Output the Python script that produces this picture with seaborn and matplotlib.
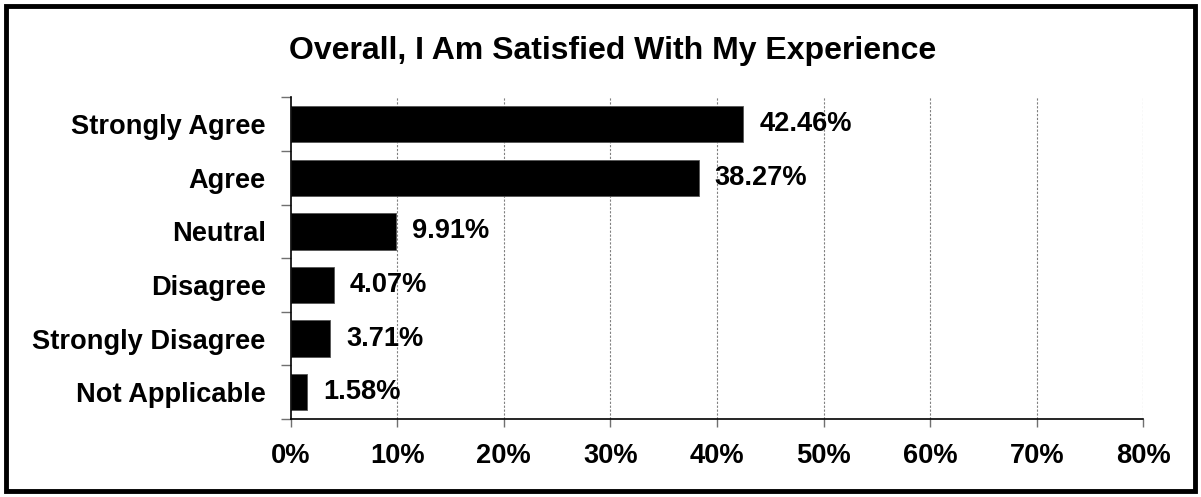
import matplotlib
matplotlib.use("Agg")
import matplotlib.pyplot as plt
from matplotlib.patches import Rectangle
from matplotlib.ticker import FixedLocator, PercentFormatter
import seaborn as sns
import pandas as pd

# Survey responses
categories = ["Strongly Agree", "Agree", "Neutral", "Disagree",
              "Strongly Disagree", "Not Applicable"]
percentages = [42.46, 38.27, 9.91, 4.07, 3.71, 1.58]
x_ticks = [0, 10, 20, 30, 40, 50, 60, 70, 80]
title = "Overall, I Am Satisfied With My Experience"

df = pd.DataFrame({"category": categories, "pct": percentages})

sns.set_theme(style="white")
plt.rcParams["font.family"] = ["Liberation Sans", "DejaVu Sans"]
plt.rcParams["font.weight"] = "bold"
plt.rcParams["text.color"] = "black"
plt.rcParams["xtick.labelcolor"] = "black"
plt.rcParams["ytick.labelcolor"] = "black"

LABEL_SIZE = 19.6

fig = plt.figure(figsize=(12.01, 4.97), dpi=100)
ax = fig.add_axes([0.242, 0.157, 0.710, 0.647])

sns.barplot(data=df, x="pct", y="category", order=categories, color="black",
            saturation=1, width=0.68, orient="h", ax=ax,
            edgecolor="#555555", linewidth=0.6)

ax.set_xlim(0, 80)
ax.set_ylim(len(categories) - 0.5, -0.5)
ax.set_xticks(x_ticks)
ax.xaxis.set_major_formatter(PercentFormatter(decimals=0))
ax.set_xlabel("")
ax.set_ylabel("")

# dashed vertical gridlines
ax.grid(False)
for t in x_ticks[1:]:
    ax.axvline(t, color="#808080", linestyle=(0, (2, 1.5)), linewidth=0.8, zorder=0)

# axes frame: only left and bottom spines
for side in ("top", "right"):
    ax.spines[side].set_visible(False)
for side in ("left", "bottom"):
    ax.spines[side].set_visible(True)
    ax.spines[side].set_color("black")
    ax.spines[side].set_linewidth(1.2)

ax.tick_params(axis="x", which="major", length=6, width=1, color="#707070",
               labelcolor="black", direction="out", bottom=True, pad=11,
               labelsize=LABEL_SIZE)
ax.tick_params(axis="y", which="major", length=0, pad=18, labelcolor="black",
               labelsize=LABEL_SIZE)
ax.yaxis.set_minor_locator(FixedLocator([i - 0.5 for i in range(len(categories) + 1)]))
ax.tick_params(axis="y", which="minor", length=7, width=1, color="#707070",
               direction="out", left=True)
for lbl in ax.get_xticklabels() + ax.get_yticklabels():
    lbl.set_fontweight("bold")
    lbl.set_color("black")

# value labels
for i, v in enumerate(percentages):
    ax.annotate(f"{v:.2f}%", xy=(v, i), xytext=(16, 0), textcoords="offset pixels",
                ha="left", va="center", fontsize=LABEL_SIZE, fontweight="bold",
                color="black")

fig.text(0.51, 0.898, title, ha="center", va="center", fontsize=23,
         fontweight="bold", color="black")

# outer frame
fig.patches.append(Rectangle((6 / 1201, 6 / 497), 1 - 12 / 1201, 1 - 12 / 497,
                             transform=fig.transFigure, fill=False,
                             edgecolor="black", linewidth=3.5))

fig.savefig("out.png", dpi=100, facecolor="white")
